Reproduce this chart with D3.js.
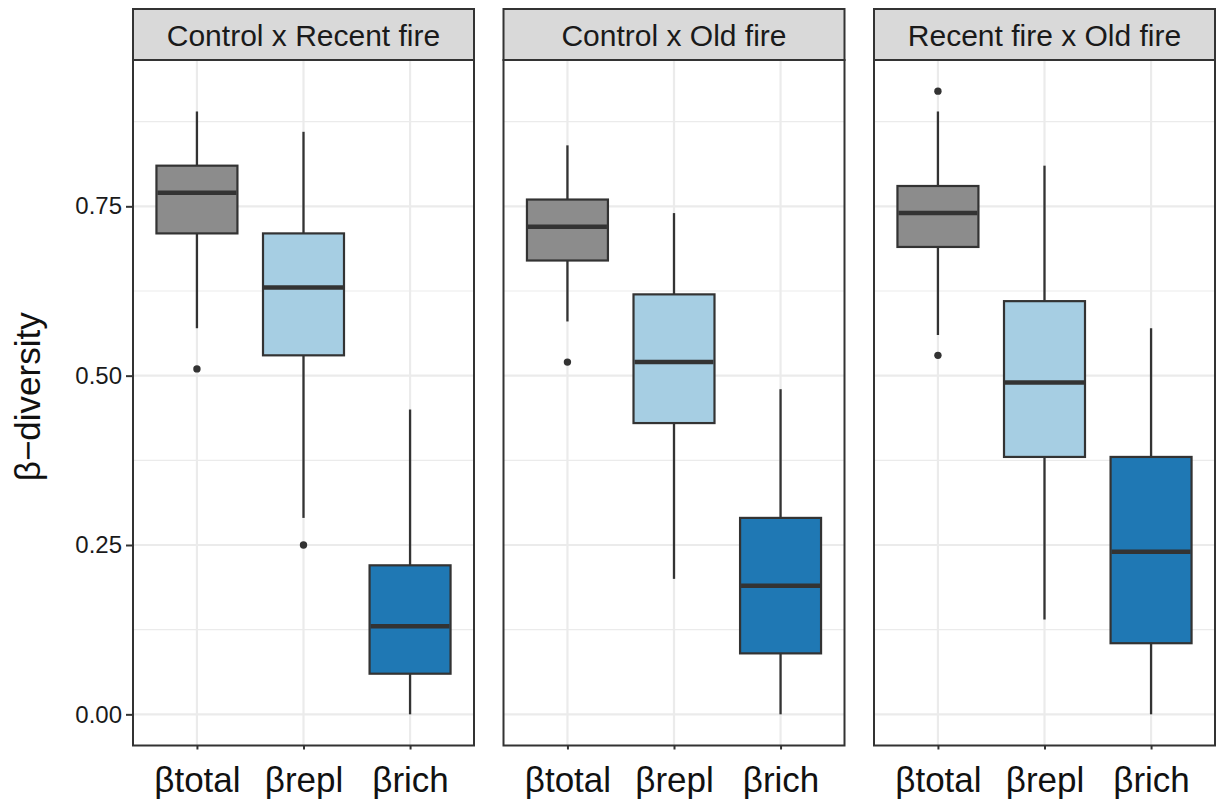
<!DOCTYPE html>
<html>
<head>
<meta charset="utf-8">
<script src="https://cdn.jsdelivr.net/npm/d3@7"></script>
<style>
  body { margin: 0; background: #fff; }
  svg { font-family: 'Liberation Sans', Arial, sans-serif; }
</style>
</head>
<body>
<svg width="1217" height="800"></svg>
<script>
// facets and categories
const panels = ['Control x Recent fire', 'Control x Old fire', 'Recent fire x Old fire'];
const components = ['βtotal', 'βrepl', 'βrich'];
const fills = ['#8c8c8c', '#a6cee3', '#1f78b4'];
const yTicks = [0, 0.25, 0.5, 0.75];

// box statistics, one array per panel (βtotal, βrepl, βrich)
const lowWhisker = [[0.57, 0.29, 0.00], [0.58, 0.20, 0.00], [0.56, 0.14, 0.00]];
const lowerQuartile = [[0.71, 0.53, 0.06], [0.67, 0.43, 0.09], [0.69, 0.38, 0.105]];
const medians = [[0.77, 0.63, 0.13], [0.72, 0.52, 0.19], [0.74, 0.49, 0.24]];
const upperQuartile = [[0.81, 0.71, 0.22], [0.76, 0.62, 0.29], [0.78, 0.61, 0.38]];
const highWhisker = [[0.89, 0.86, 0.45], [0.84, 0.74, 0.48], [0.89, 0.81, 0.57]];
const outliers = [[[0.51], [0.25], []], [[0.52], [], []], [[0.92, 0.53], [], []]];

const boxes = panels.map((p, i) => components.map((c, j) => ({
  panel: p,
  comp: c,
  fill: fills[j],
  lo: lowWhisker[i][j],
  q1: lowerQuartile[i][j],
  med: medians[i][j],
  q3: upperQuartile[i][j],
  hi: highWhisker[i][j],
  out: outliers[i][j]
})));

const svg = d3.select('svg');
const panelW = 341;
const gap = 29.5;
const plotLeft = 133;
const plotTop = 60;
const plotBottom = 745.5;
const stripTop = 9;

const allVals = boxes.flat().flatMap(d => [d.lo, d.hi, ...d.out]);
const ymin = d3.min(allVals);
const ymax = d3.max(allVals);
const pad = (ymax - ymin) * 0.05;

const y = d3.scaleLinear()
  .domain([ymin - pad, ymax + pad])
  .range([plotBottom, plotTop]);

const x = d3.scalePoint()
  .domain(components)
  .range([0, panelW])
  .padding(0.6);

const boxW = x.step() * 0.76;
const minorTicks = d3.range(0.125, ymax + pad, 0.25);

panels.forEach((name, i) => {
  const g = svg.append('g')
    .attr('transform', `translate(${plotLeft + i * (panelW + gap)},0)`);

  // grid
  g.append('g').selectAll('line')
    .data(minorTicks)
    .enter()
    .append('line')
      .attr('x1', 0).attr('x2', panelW)
      .attr('y1', d => y(d)).attr('y2', d => y(d))
      .attr('stroke', '#ebebeb')
      .attr('stroke-width', 1.2);

  g.append('g').selectAll('line')
    .data(yTicks)
    .enter()
    .append('line')
      .attr('x1', 0).attr('x2', panelW)
      .attr('y1', d => y(d)).attr('y2', d => y(d))
      .attr('stroke', '#ebebeb')
      .attr('stroke-width', 2.2);

  g.append('g').selectAll('line')
    .data(components)
    .enter()
    .append('line')
      .attr('x1', d => x(d)).attr('x2', d => x(d))
      .attr('y1', plotTop).attr('y2', plotBottom)
      .attr('stroke', '#ebebeb')
      .attr('stroke-width', 2.2);

  // boxes
  const b = g.append('g').selectAll('g')
    .data(boxes[i])
    .enter()
    .append('g');

  b.append('line')
    .attr('x1', d => x(d.comp)).attr('x2', d => x(d.comp))
    .attr('y1', d => y(d.hi)).attr('y2', d => y(d.q3))
    .attr('stroke', '#333')
    .attr('stroke-width', 2.3);

  b.append('line')
    .attr('x1', d => x(d.comp)).attr('x2', d => x(d.comp))
    .attr('y1', d => y(d.q1)).attr('y2', d => y(d.lo))
    .attr('stroke', '#333')
    .attr('stroke-width', 2.3);

  b.append('rect')
    .attr('x', d => x(d.comp) - boxW / 2)
    .attr('width', boxW)
    .attr('y', d => y(d.q3))
    .attr('height', d => y(d.q1) - y(d.q3))
    .attr('fill', d => d.fill)
    .attr('stroke', '#333')
    .attr('stroke-width', 2.2);

  b.append('line')
    .attr('x1', d => x(d.comp) - boxW / 2 + 1).attr('x2', d => x(d.comp) + boxW / 2 - 1)
    .attr('y1', d => y(d.med)).attr('y2', d => y(d.med))
    .attr('stroke', '#333')
    .attr('stroke-width', 4.5);

  b.selectAll('circle')
    .data(d => d.out.map(v => ({ comp: d.comp, v })))
    .enter()
    .append('circle')
      .attr('cx', d => x(d.comp))
      .attr('cy', d => y(d.v))
      .attr('r', 3.7)
      .attr('fill', '#333');

  // border
  g.append('rect')
    .attr('x', 0).attr('y', plotTop)
    .attr('width', panelW).attr('height', plotBottom - plotTop)
    .attr('fill', 'none')
    .attr('stroke', '#333')
    .attr('stroke-width', 2);

  // strip
  g.append('rect')
    .attr('x', 0).attr('y', stripTop)
    .attr('width', panelW).attr('height', plotTop - stripTop)
    .attr('fill', '#d9d9d9')
    .attr('stroke', '#333')
    .attr('stroke-width', 2);

  g.append('text')
    .attr('x', panelW / 2)
    .attr('y', 46)
    .attr('text-anchor', 'middle')
    .attr('font-size', 30)
    .attr('fill', '#1a1a1a')
    .text(name);

  // x axis
  const xa = g.append('g')
    .attr('transform', `translate(0,${plotBottom})`)
    .call(d3.axisBottom(x).tickSize(4).tickPadding(18));
  xa.select('.domain').remove();
  xa.selectAll('.tick line').attr('stroke', '#333').attr('stroke-width', 2);
  xa.selectAll('.tick text')
    .attr('font-size', 35)
    .attr('font-family', "'Liberation Sans', Arial, sans-serif")
    .attr('fill', '#111');

  // y axis on first panel only
  if (i === 0) {
    const ya = g.append('g')
      .call(d3.axisLeft(y).tickValues(yTicks).tickFormat(d3.format('.2f')).tickSize(7).tickPadding(4));
    ya.select('.domain').remove();
    ya.selectAll('.tick line').attr('stroke', '#333').attr('stroke-width', 2);
    ya.selectAll('.tick text')
      .attr('font-size', 24)
      .attr('font-family', "'Liberation Sans', Arial, sans-serif")
      .attr('fill', '#1a1a1a');
  }
});

svg.append('text')
  .attr('transform', `translate(40,${(plotTop + plotBottom) / 2 - 6}) rotate(-90)`)
  .attr('text-anchor', 'middle')
  .attr('font-size', 35)
  .attr('fill', '#111')
  .text('β−diversity');
</script>
</body>
</html>
